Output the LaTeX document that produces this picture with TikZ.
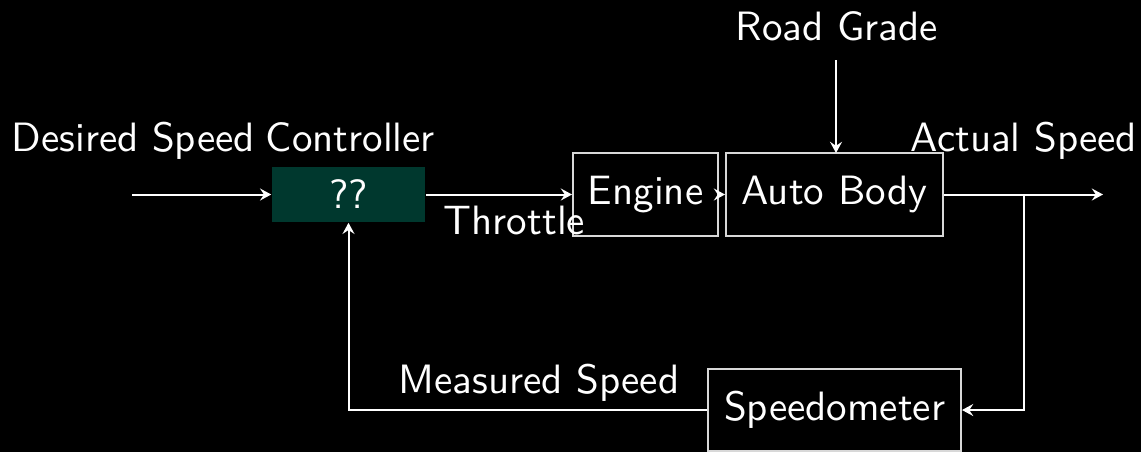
\documentclass[tikz,border=0pt]{standalone}
\usetikzlibrary{arrows.meta}
\definecolor{ctrlfill}{HTML}{00382E}
\definecolor{edgegray}{HTML}{D8D8D8}
\begin{document}
\begin{tikzpicture}[x=0.25pt,y=-0.25pt,
  font=\sffamily\fontsize{10.25}{12}\selectfont,
  every node/.style={text=white, inner sep=0pt},
  block/.style={draw=edgegray, line width=0.5pt, minimum height=20.75pt},
  ctrlbox/.style={fill=ctrlfill, minimum width=38.25pt, minimum height=13.75pt},
  label/.style={anchor=base west},
  wire/.style={draw=white, line width=0.5pt},
  arr/.style={wire, -{Stealth[length=2.8pt, width=3pt, inset=1pt]}}]
  % background and page size
  \fill[black] (0,0) rectangle (1141,452);
  \useasboundingbox (0,0) rectangle (1141,452);

  % blocks
  \node[ctrlbox] (ctrl) at (348.5,194.5) {??};
  \node[block, minimum width=36.25pt] (eng) at (645.5,194.5) {Engine};
  \node[block, minimum width=54.25pt] (body) at (834.5,194.5) {Auto Body};
  \node[block, minimum width=63.25pt, minimum height=20.5pt] (spd) at (834.5,410) {Speedometer};

  % signal labels
  \node[label] (lin) at (11,151) {Desired Speed};
  \node[label] (lctrl) at (265,151) {Controller};
  \node[label] (lthr) at (443,234) {Throttle};
  \node[label] (lgrade) at (735,40) {Road Grade};
  \node[label] (lout) at (910,151) {Actual Speed};
  \node[label] (lmeas) at (398,393) {Measured Speed};

  % connector end points
  \coordinate (src) at (132,194.5);
  \coordinate (sink) at (1103,194.5);
  \coordinate (split) at (1024,194.5);
  \coordinate (gradetop) at (836,60);
  \coordinate (gradebot) at (836,153);

  % signal flow
  \draw[arr] (src) -- (ctrl.west);
  \draw[arr] (ctrl.east) -- (eng.west);
  \draw[arr] (eng.east) -- (body.west);
  \draw[arr] (gradetop) -- (gradebot);
  \draw[arr] (body.east) -- (sink);
  \draw[arr] (split) |- (spd.east);
  \draw[arr] (spd.west) -| (ctrl.south);
\end{tikzpicture}
\end{document}
